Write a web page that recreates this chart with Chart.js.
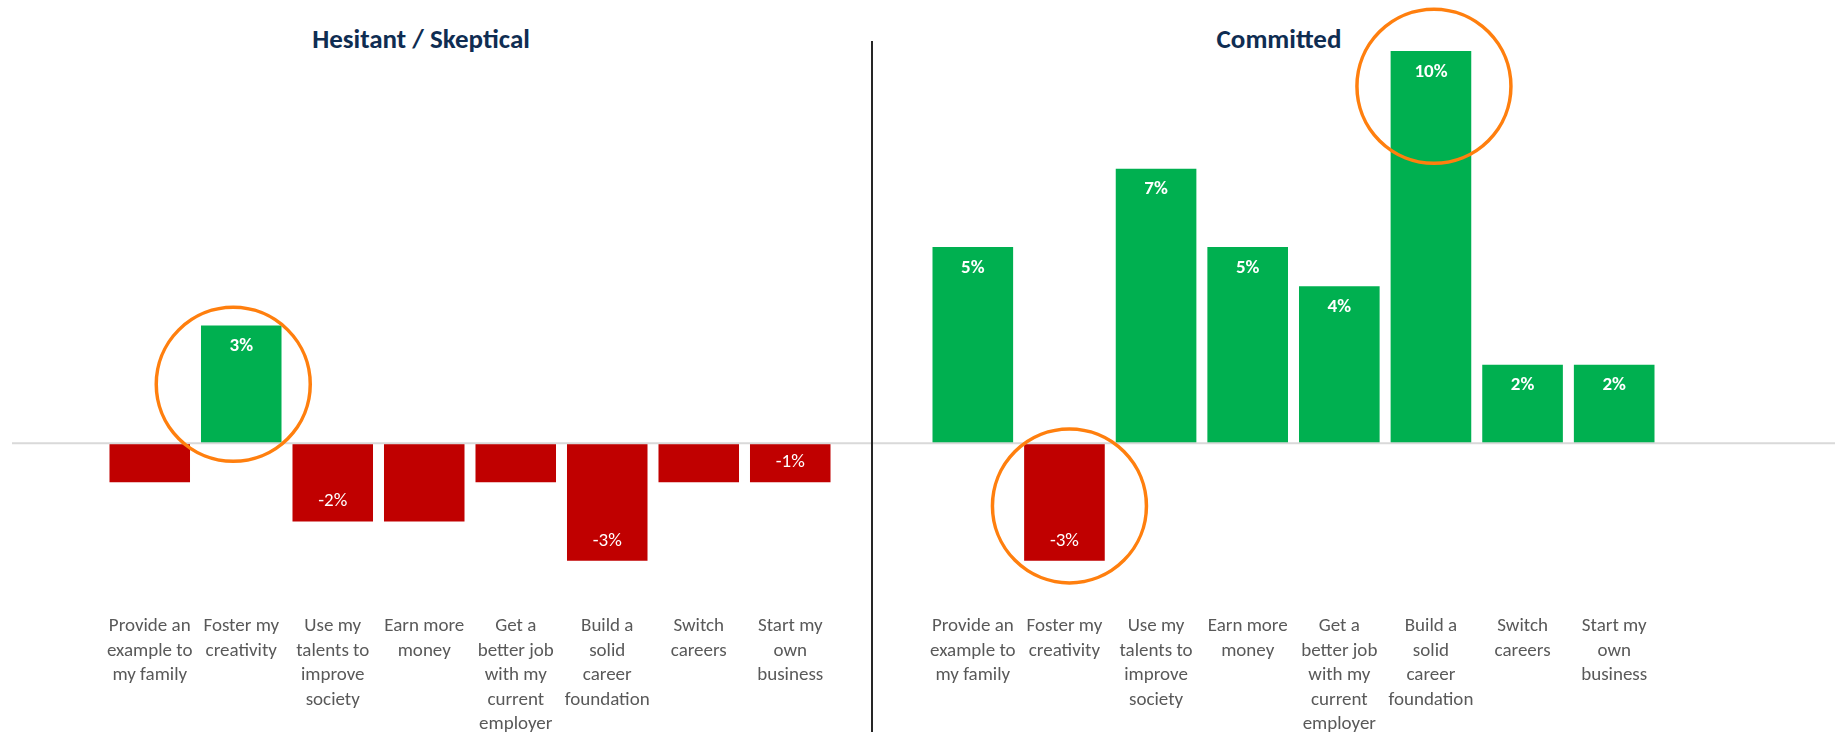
<!doctype html>
<html lang="en">
<head>
<meta charset="utf-8">
<title>Motivations: Hesitant / Skeptical vs Committed</title>
<script src="https://cdn.jsdelivr.net/npm/chart.js"></script>
<style>
  body { margin: 0; width: 1835px; height: 732px; background: #fff; position: relative; overflow: hidden; }
  .panel { position: absolute; top: 0; height: 732px; }
  #leftPanel { left: 0; width: 872px; }
  #rightPanel { left: 872px; width: 963px; }
  .title {
    position: absolute; top: 25px; width: 600px; text-align: center;
    font-family: Carlito, Calibri, Lato, sans-serif; font-size: 27px; font-weight: bold;
    line-height: 1; color: #0F2D52;
  }
  #divider { position: absolute; left: 871px; top: 41px; width: 2px; height: 691px; background: #262626; }
</style>
</head>
<body>
  <div class="title" style="left:121px">Hesitant / Skeptical</div>
  <div class="title" style="left:979px">Committed</div>
  <div class="panel" id="leftPanel"><canvas id="hesitantChart"></canvas></div>
  <div class="panel" id="rightPanel"><canvas id="committedChart"></canvas></div>
  <div id="divider"></div>

<script>
const categories = [
  ["Provide an", "example to", "my family"],
  ["Foster my", "creativity"],
  ["Use my", "talents to", "improve", "society"],
  ["Earn more", "money"],
  ["Get a", "better job", "with my", "current", "employer"],
  ["Build a", "solid", "career", "foundation"],
  ["Switch", "careers"],
  ["Start my", "own", "business"]
];

// difference vs. average, in percentage points
const hesitantValues = [-1, 3, -2, -2, -1, -3, -1, -1];
const hesitantLabelled = [false, true, true, false, false, true, false, true];

const committedValues = [5, -3, 7, 5, 4, 10, 2, 2];
const committedLabelled = [true, true, true, true, true, true, true, true];

const yMin = -4;
const yMax = 10;

// call-out rings: category index, value the ring is centred on, small sideways nudge
const hesitantRings = [{ index: 1, value: 1.5, dx: -8 }];
const committedRings = [{ index: 1, value: -1.6, dx: 5 }, { index: 5, value: 9.1, dx: 3 }];

const GREEN = '#00B050';
const RED = '#C00000';
const ORANGE = '#FF7F0E';
const FONT = 'Carlito, Calibri, Lato, sans-serif';

// grey baseline at zero, running past the plot area
const zeroLine = {
  id: 'zeroLine',
  afterDatasetsDraw(chart, args, opts) {
    const y = chart.scales.y.getPixelForValue(0);
    const ctx = chart.ctx;
    ctx.save();
    ctx.strokeStyle = '#D9D9D9';
    ctx.lineWidth = 2;
    ctx.beginPath();
    ctx.moveTo(opts.from || 0, y);
    ctx.lineTo(chart.width, y);
    ctx.stroke();
    ctx.restore();
  }
};

// white value labels inside the end of each bar
const barLabels = {
  id: 'barLabels',
  afterDatasetsDraw(chart, args, opts) {
    const ctx = chart.ctx;
    const values = chart.data.datasets[0].data;
    chart.getDatasetMeta(0).data.forEach((bar, i) => {
      if (!opts.show[i]) return;
      const v = values[i];
      ctx.save();
      ctx.fillStyle = '#fff';
      ctx.textAlign = 'center';
      ctx.textBaseline = 'middle';
      ctx.font = (v >= 0 ? 'bold ' : '') + '19px ' + FONT;
      ctx.fillText(v + '%', bar.x, v >= 0 ? bar.y + 21 : bar.y - 20);
      ctx.restore();
    });
  }
};

const rings = {
  id: 'rings',
  afterDraw(chart, args, opts) {
    const ctx = chart.ctx;
    const meta = chart.getDatasetMeta(0);
    (opts.items || []).forEach(r => {
      const x = meta.data[r.index].x + (r.dx || 0);
      const y = chart.scales.y.getPixelForValue(r.value);
      ctx.save();
      ctx.strokeStyle = ORANGE;
      ctx.lineWidth = 3.5;
      ctx.beginPath();
      ctx.arc(x, y, 77, 0, Math.PI * 2);
      ctx.stroke();
      ctx.restore();
    });
  }
};

function makeChart(id, values, labelled, ringList, padding, lineFrom) {
  return new Chart(document.getElementById(id), {
    type: 'bar',
    data: {
      labels: categories,
      datasets: [{
        data: values,
        backgroundColor: values.map(v => v >= 0 ? GREEN : RED),
        categoryPercentage: 1,
        barPercentage: 0.88
      }]
    },
    options: {
      responsive: true,
      maintainAspectRatio: false,
      animation: false,
      layout: { padding: padding },
      plugins: {
        legend: { display: false },
        tooltip: { enabled: false },
        zeroLine: { from: lineFrom },
        barLabels: { show: labelled },
        rings: { items: ringList }
      },
      scales: {
        x: {
          grid: { display: false, drawTicks: false },
          border: { display: false },
          ticks: {
            color: '#595959',
            font: { family: FONT, size: 19, lineHeight: 1.29 },
            padding: 14,
            maxRotation: 0,
            autoSkip: false
          },
          afterFit(scale) { scale.height = 132; }
        },
        y: { display: false, min: yMin, max: yMax }
      }
    },
    plugins: [zeroLine, barLabels, rings]
  });
}

makeChart('hesitantChart', hesitantValues, hesitantLabelled, hesitantRings,
  { top: 51, left: 104, right: 36, bottom: 0 }, 12);
makeChart('committedChart', committedValues, committedLabelled, committedRings,
  { top: 51, left: 55, right: 175, bottom: 0 }, 0);
</script>
</body>
</html>
